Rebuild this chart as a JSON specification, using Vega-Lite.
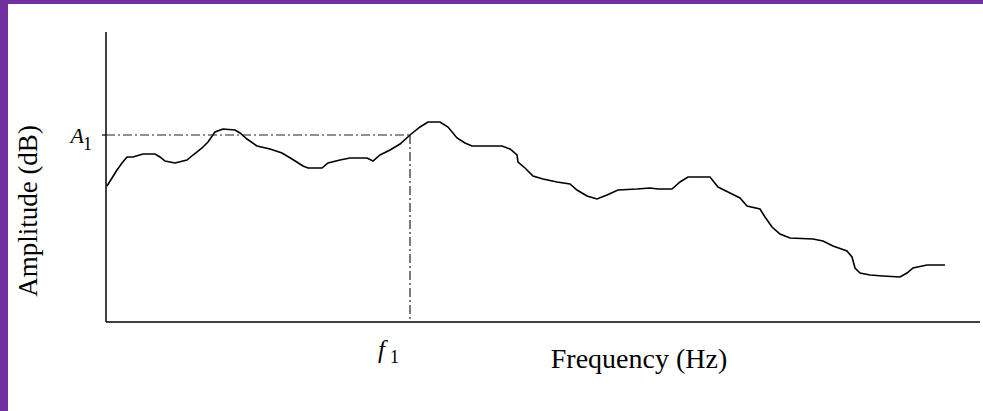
{
  "$schema": "https://vega.github.io/schema/vega-lite/v6.json",
  "width": 975,
  "height": 407,
  "autosize": {"type": "none"},
  "padding": {"left": 8, "top": 4, "right": 0, "bottom": 0},
  "background": "#7030A0",
  "config": {"view": {"fill": "white", "stroke": null}},
  "datasets": {
    "curve": [
      {"f": 1, "a": 136}, {"f": 6, "a": 144}, {"f": 11, "a": 152}, {"f": 16, "a": 159},
      {"f": 21, "a": 165}, {"f": 27, "a": 165}, {"f": 37, "a": 168}, {"f": 49, "a": 168},
      {"f": 54, "a": 165}, {"f": 59, "a": 161}, {"f": 69, "a": 159}, {"f": 81, "a": 162},
      {"f": 87, "a": 167}, {"f": 96, "a": 174}, {"f": 102, "a": 180}, {"f": 109, "a": 190},
      {"f": 117, "a": 193}, {"f": 129, "a": 192}, {"f": 134, "a": 189}, {"f": 141, "a": 183},
      {"f": 151, "a": 176}, {"f": 164, "a": 173}, {"f": 176, "a": 169}, {"f": 186, "a": 163},
      {"f": 197, "a": 156}, {"f": 202, "a": 154}, {"f": 216, "a": 154}, {"f": 222, "a": 159},
      {"f": 234, "a": 162}, {"f": 244, "a": 164}, {"f": 261, "a": 164}, {"f": 267, "a": 161},
      {"f": 274, "a": 167}, {"f": 284, "a": 172}, {"f": 294, "a": 178}, {"f": 304, "a": 187},
      {"f": 314, "a": 195}, {"f": 322, "a": 200}, {"f": 334, "a": 200}, {"f": 342, "a": 195},
      {"f": 351, "a": 184}, {"f": 359, "a": 179}, {"f": 366, "a": 176}, {"f": 396, "a": 176},
      {"f": 404, "a": 173}, {"f": 411, "a": 167}, {"f": 412, "a": 160}, {"f": 419, "a": 154},
      {"f": 427, "a": 146}, {"f": 437, "a": 143}, {"f": 451, "a": 140}, {"f": 464, "a": 138},
      {"f": 471, "a": 132}, {"f": 481, "a": 126}, {"f": 491, "a": 123}, {"f": 501, "a": 127},
      {"f": 512, "a": 132}, {"f": 531, "a": 133}, {"f": 544, "a": 134}, {"f": 552, "a": 133},
      {"f": 566, "a": 133}, {"f": 574, "a": 140}, {"f": 582, "a": 145}, {"f": 604, "a": 145},
      {"f": 612, "a": 135}, {"f": 624, "a": 129}, {"f": 634, "a": 124}, {"f": 641, "a": 116},
      {"f": 654, "a": 113}, {"f": 659, "a": 105}, {"f": 666, "a": 95}, {"f": 674, "a": 88},
      {"f": 684, "a": 84}, {"f": 707, "a": 83}, {"f": 717, "a": 81}, {"f": 727, "a": 76},
      {"f": 741, "a": 71}, {"f": 746, "a": 65}, {"f": 749, "a": 54}, {"f": 754, "a": 49},
      {"f": 764, "a": 47}, {"f": 777, "a": 46}, {"f": 794, "a": 45}, {"f": 801, "a": 49},
      {"f": 807, "a": 54}, {"f": 821, "a": 57}, {"f": 839, "a": 57}
    ]
  },
  "layer": [
    {
      "data": {"name": "curve"},
      "mark": {"type": "line", "color": "#000000", "strokeWidth": 1.6, "interpolate": "linear"},
      "encoding": {
        "x": {"field": "f", "type": "quantitative", "axis": null, "scale": {"domain": [-98, 877], "nice": false, "zero": false}},
        "y": {"field": "a", "type": "quantitative", "axis": null, "scale": {"domain": [-89, 318], "nice": false, "zero": false}}
      }
    },
    {
      "data": {"values": [{}]},
      "mark": {"type": "rule", "color": "#000000", "strokeWidth": 1.5},
      "encoding": {
        "x": {"datum": 0, "type": "quantitative", "axis": null},
        "y": {"datum": 0, "type": "quantitative", "axis": null},
        "y2": {"datum": 290}
      }
    },
    {
      "data": {"values": [{}]},
      "mark": {"type": "rule", "color": "#000000", "strokeWidth": 1.5},
      "encoding": {
        "x": {"datum": 0, "type": "quantitative", "axis": null},
        "x2": {"datum": 874},
        "y": {"datum": 0, "type": "quantitative", "axis": null}
      }
    },
    {
      "data": {"values": [{}]},
      "mark": {"type": "rule", "color": "#000000", "strokeWidth": 1.2},
      "encoding": {
        "x": {"datum": -4, "type": "quantitative", "axis": null},
        "x2": {"datum": 0},
        "y": {"datum": 187, "type": "quantitative", "axis": null}
      }
    },
    {
      "data": {"values": [{}]},
      "mark": {"type": "rule", "color": "#222222", "strokeWidth": 1.2, "strokeDash": [9, 3, 2, 3]},
      "encoding": {
        "x": {"datum": 0, "type": "quantitative", "axis": null},
        "x2": {"datum": 304},
        "y": {"datum": 187, "type": "quantitative", "axis": null}
      }
    },
    {
      "data": {"values": [{}]},
      "mark": {"type": "rule", "color": "#222222", "strokeWidth": 1.2, "strokeDash": [9, 3, 2, 3]},
      "encoding": {
        "x": {"datum": 304, "type": "quantitative", "axis": null},
        "y": {"datum": 187, "type": "quantitative", "axis": null},
        "y2": {"datum": 0}
      }
    },
    {
      "data": {"values": [{}]},
      "mark": {"type": "text", "text": "A", "font": "Liberation Serif", "fontStyle": "italic", "fontSize": 22, "align": "right", "baseline": "alphabetic", "dx": -22, "dy": 8, "color": "#000000"},
      "encoding": {
        "x": {"datum": 0, "type": "quantitative", "axis": null},
        "y": {"datum": 187, "type": "quantitative", "axis": null}
      }
    },
    {
      "data": {"values": [{}]},
      "mark": {"type": "text", "text": "1", "font": "Liberation Serif", "fontSize": 18, "align": "left", "baseline": "alphabetic", "dx": -23, "dy": 15, "color": "#000000"},
      "encoding": {
        "x": {"datum": 0, "type": "quantitative", "axis": null},
        "y": {"datum": 187, "type": "quantitative", "axis": null}
      }
    },
    {
      "data": {"values": [{}]},
      "mark": {"type": "text", "text": "f", "font": "Liberation Serif", "fontStyle": "italic", "fontSize": 25, "align": "left", "baseline": "alphabetic", "dx": -32, "dy": 36, "color": "#000000"},
      "encoding": {
        "x": {"datum": 304, "type": "quantitative", "axis": null},
        "y": {"datum": 0, "type": "quantitative", "axis": null}
      }
    },
    {
      "data": {"values": [{}]},
      "mark": {"type": "text", "text": "1", "font": "Liberation Serif", "fontSize": 18, "align": "left", "baseline": "alphabetic", "dx": -20, "dy": 41, "color": "#000000"},
      "encoding": {
        "x": {"datum": 304, "type": "quantitative", "axis": null},
        "y": {"datum": 0, "type": "quantitative", "axis": null}
      }
    },
    {
      "data": {"values": [{}]},
      "mark": {"type": "text", "text": "Frequency (Hz)", "font": "Liberation Serif", "fontSize": 28, "align": "center", "baseline": "alphabetic", "color": "#000000"},
      "encoding": {
        "x": {"datum": 533, "type": "quantitative", "axis": null},
        "y": {"datum": -46, "type": "quantitative", "axis": null}
      }
    },
    {
      "data": {"values": [{}]},
      "mark": {"type": "text", "text": "Amplitude (dB)", "font": "Liberation Serif", "fontSize": 27, "align": "center", "baseline": "alphabetic", "angle": 270, "color": "#000000"},
      "encoding": {
        "x": {"datum": -69, "type": "quantitative", "axis": null},
        "y": {"datum": 111, "type": "quantitative", "axis": null}
      }
    }
  ]
}
